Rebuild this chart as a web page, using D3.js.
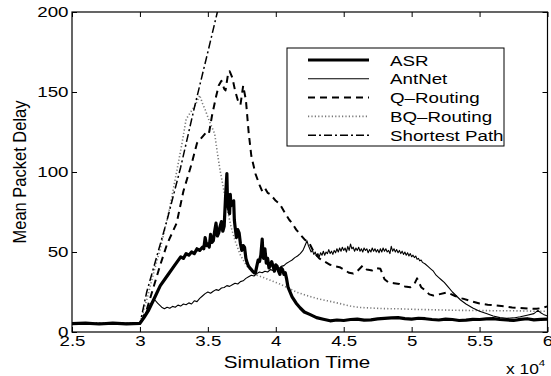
<!DOCTYPE html>
<html>
<head>
<meta charset="utf-8">
<script src="https://cdn.jsdelivr.net/npm/d3@7"></script>
<style>
  body { margin: 0; background: #fff; }
  svg { display: block; }
</style>
</head>
<body>
<script>
// time in units of 10^4, delay values
const xTicks = [2.5, 3, 3.5, 4, 4.5, 5, 5.5, 6]
const xTickLabels = ['2.5', '3', '3.5', '4', '4.5', '5', '5.5', '6']
const yTicks = [0, 50, 100, 150, 200]
const yTickLabels = ['0', '50', '100', '150', '200']

const seriesNames = ['ASR', 'AntNet', 'Q\u2013Routing', 'BQ\u2013Routing', 'Shortest Path']

const asr = [[2.5,5.2],[2.6,5.6],[2.7,5.0],[2.8,5.5],[2.9,5.1],[3.0,5.4],
  [3.03,9],[3.06,13],[3.1,20],[3.15,29],[3.2,35],[3.25,41],[3.3,47],[3.32,46],[3.34,49],[3.36,48],[3.38,50],[3.4,49],
  [3.42,52],[3.44,51],[3.46,53],[3.47,52],[3.48,59],[3.49,54],[3.5,55],[3.51,53],[3.52,61],[3.53,56],[3.54,57],[3.55,63],
  [3.56,68],[3.57,60],[3.58,62],[3.59,66],[3.6,69],[3.61,63],[3.62,66],[3.63,84],[3.64,99],[3.645,80],[3.65,78],[3.66,74],
  [3.665,86],[3.67,79],[3.68,80],[3.69,82],[3.695,70],[3.7,66],[3.71,59],[3.72,64],[3.73,62],[3.74,55],[3.75,51],[3.76,54],
  [3.77,53],[3.78,46],[3.79,43],[3.8,41],[3.81,40],[3.82,39],[3.83,38],[3.84,37],[3.85,37],[3.86,41],[3.87,45],[3.88,44],
  [3.89,48],[3.9,58],[3.905,50],[3.91,46],[3.92,52],[3.93,43],[3.94,46],[3.95,40],[3.96,42],[3.97,44],[3.98,41],[3.99,38],
  [4.0,42],[4.01,41],[4.02,38],[4.03,36],[4.04,40],[4.05,39],[4.06,36],[4.07,37],[4.08,33],[4.09,28],[4.1,26],[4.12,22],
  [4.15,18],[4.18,15],[4.21,12.5],[4.25,11],[4.3,9],[4.35,8],[4.4,7],[4.45,7.5],[4.5,7.2],[4.55,7.8],[4.6,8],[4.65,7.4],
  [4.7,7.6],[4.75,8.2],[4.8,8.5],[4.85,8.8],[4.9,9],[4.95,8.4],[5.0,8],[5.05,8.6],[5.1,8.3],[5.15,7.8],[5.2,7.5],[5.25,8],
  [5.3,7.8],[5.35,7.2],[5.4,7.4],[5.45,7.9],[5.5,7.8],[5.55,8.2],[5.6,8.4],[5.65,7.8],[5.7,7.5],[5.75,7.2],[5.8,7.9],
  [5.85,8.3],[5.9,7.6],[5.95,7.9],[6.0,8]]

const antnet = [[2.5,5.5],[2.6,5.2],[2.7,5.6],[2.8,5.1],[2.9,5.5],[3.0,5.3],[3.03,10],[3.06,15],[3.09,19],[3.11,20],
  [3.13,18],[3.16,15.5],[3.18,14.5],[3.2,15.5],[3.22,14.8],[3.24,16],[3.26,15.5],[3.28,16.8],[3.3,16.2],[3.32,17.5],
  [3.34,17],[3.36,18.2],[3.38,17.5],[3.4,19.5],[3.42,19],[3.44,21],[3.46,22.5],[3.48,24],[3.5,25],[3.52,24.2],[3.54,25.5],
  [3.56,26.5],[3.58,26],[3.6,27.5],[3.62,27.8],[3.64,29],[3.66,28.5],[3.68,29.5],[3.7,30.5],[3.72,30],[3.74,31.5],
  [3.76,32],[3.78,33.5],[3.8,34.5],[3.82,35.5],[3.84,35],[3.86,36.5],[3.88,37.5],[3.9,37],[3.92,38],[3.94,37.5],
  [3.96,39],[3.98,38.5],[4.0,40],[4.02,39.5],[4.04,41],[4.06,41.5],[4.08,43],[4.1,44],[4.12,45],[4.14,46.5],[4.16,47.5],
  [4.18,49],[4.2,51],[4.21,53],[4.22,55],[4.23,57],[4.24,54],[4.25,52],[4.26,50],[4.27,51],[4.28,48.5],[4.29,50],
  [4.3,47.5],[4.31,49],[4.32,47],[4.33,49.5],[4.34,48],[4.35,50.5],[4.36,48],[4.37,50],[4.38,49],[4.39,51.5],[4.4,49],
  [4.41,50.5],[4.42,48.5],[4.43,51],[4.44,49.5],[4.45,52],[4.46,50],[4.47,52.5],[4.48,50.5],[4.49,53],[4.5,51],
  [4.51,52.5],[4.52,50],[4.53,53.5],[4.54,51],[4.55,55],[4.56,52],[4.57,53],[4.58,50.5],[4.59,52.5],[4.6,51],[4.61,53],
  [4.62,50.5],[4.63,52],[4.64,50],[4.65,52.5],[4.66,51],[4.67,52],[4.68,49.5],[4.69,51.5],[4.7,50],[4.71,52.5],[4.72,50.5],
  [4.73,52],[4.74,50],[4.75,51.5],[4.76,49.5],[4.77,52],[4.78,50],[4.79,52.5],[4.8,50.5],[4.81,52],[4.82,50],[4.83,51],
  [4.84,49],[4.85,53.5],[4.86,50.5],[4.87,52],[4.88,50],[4.89,51.5],[4.9,49.5],[4.91,51],[4.92,49],[4.93,50.5],[4.94,48.5],
  [4.95,50],[4.96,48],[4.97,49.5],[4.98,47.5],[4.99,49],[5.0,47],[5.01,48],[5.02,46.5],[5.03,47.5],[5.04,45.5],[5.05,46],
  [5.06,44.5],[5.07,45],[5.08,43.5],[5.1,42.5],[5.12,41],[5.14,39.5],[5.16,38],[5.18,35.5],[5.2,34],[5.22,32.5],
  [5.24,31],[5.27,28],[5.3,25],[5.33,22.5],[5.36,20],[5.4,17.5],[5.45,15],[5.5,13],[5.55,11.5],[5.6,10],[5.65,9],
  [5.7,8.5],[5.75,8.8],[5.8,9.5],[5.85,10.5],[5.9,11.5],[5.93,13.5],[5.95,12],[5.97,11],[6.0,10]]

const qrouting = [[2.5,5],[3.0,5],[3.05,14],[3.1,28],[3.15,42],[3.2,55],[3.27,68],[3.32,88],[3.38,105],[3.42,118],
  [3.45,121],[3.48,124],[3.5,126],[3.51,125],[3.53,135],[3.56,147],[3.58,154],[3.6,157],[3.62,152],[3.63,151],[3.65,162],
  [3.66,163],[3.68,159],[3.7,151],[3.72,145],[3.74,142],[3.76,154],[3.78,145],[3.8,125],[3.82,110],[3.85,99],[3.88,92],
  [3.9,88],[3.92,90],[3.94,87],[3.96,86],[4.0,82],[4.03,80],[4.07,74],[4.1,70],[4.12,68],[4.15,64],[4.18,61],[4.21,58],
  [4.25,55],[4.28,50],[4.32,46],[4.36,44],[4.4,42],[4.44,41],[4.47,40.5],[4.5,39],[4.54,37],[4.57,36.5],[4.6,38],
  [4.64,41.5],[4.67,39],[4.71,38.5],[4.74,40],[4.77,39.5],[4.8,33],[4.83,31],[4.87,30.5],[4.91,30],[4.95,28.5],[4.99,28],
  [5.02,30],[5.04,33.5],[5.07,28],[5.1,26],[5.13,23.5],[5.16,22.8],[5.2,23.5],[5.26,24.7],[5.32,22.5],[5.37,21],
  [5.43,19.5],[5.5,17.8],[5.56,17],[5.62,16.6],[5.68,16],[5.74,15.3],[5.8,15],[5.86,14.7],[5.92,14.5],[5.96,15],[6.0,16]]

const bqrouting = [[2.5,5.8],[3.0,5.8],[3.05,20],[3.1,36.6],[3.15,52],[3.22,78],[3.27,100],[3.31,118],[3.34,133],
  [3.37,137],[3.41,142],[3.44,148],[3.46,143],[3.48,139],[3.51,132],[3.53,128],[3.55,124],[3.57,112],[3.59,101],
  [3.61,92],[3.64,78],[3.67,66],[3.7,57],[3.74,48],[3.78,42],[3.82,38],[3.86,35.5],[3.91,34],[3.97,32],[4.03,30],
  [4.09,27.5],[4.15,25],[4.22,23],[4.3,21],[4.38,19.5],[4.47,17.8],[4.55,16.2],[4.62,15.3],[4.7,15],[4.8,14.6],[4.9,14.5],
  [5.0,14.2],[5.1,14],[5.2,13.8],[5.3,13.6],[5.4,13.5],[5.5,13.4],[5.6,13.3],[5.7,13.3],[5.8,13.2],[5.9,13],[6.0,13]]

const shortest = [[2.5,5],[3.0,5],[3.05,25],[3.1,40],[3.2,70],[3.3,103],[3.4,140],[3.5,175],[3.57,200],[3.6,212]]

const w = 551
const h = 376
const sx = 1.25 // text in the picture is stretched sideways

const svg = d3.select('body')
    .append('svg')
    .attr('width', w)
    .attr('height', h)
    .style('font-family', '"Liberation Sans", Arial, sans-serif')

const x = d3.scaleLinear().domain([2.5, 6]).range([72, 547.5])
const y = d3.scaleLinear().domain([0, 200]).range([332, 12])

// styles per series
const styles = [
    { data: asr, width: 3.2, color: '#000', dash: null },
    { data: antnet, width: 1.1, color: '#000', dash: null },
    { data: qrouting, width: 2, color: '#000', dash: '7,5' },
    { data: bqrouting, width: 1.6, color: '#777', dash: '1.2,2.2' },
    { data: shortest, width: 1.5, color: '#000', dash: '8,3,2,3' }
]

svg.append('clipPath')
    .attr('id', 'plot')
    .append('rect')
    .attr('x', x(2.5))
    .attr('y', y(200))
    .attr('width', x(6) - x(2.5))
    .attr('height', y(0) - y(200))

const line = d3.line()
    .x(d => x(d[0]))
    .y(d => y(d[1]))

// draw order: lighter ones first
const drawOrder = [3, 4, 2, 1, 0]
svg.append('g')
    .attr('clip-path', 'url(#plot)')
    .selectAll('path')
    .data(drawOrder.map(i => styles[i]))
    .enter()
    .append('path')
    .attr('d', d => line(d.data))
    .attr('fill', 'none')
    .attr('stroke', d => d.color)
    .attr('stroke-width', d => d.width)
    .attr('stroke-dasharray', d => d.dash)
    .attr('stroke-linejoin', 'round')

// axes with inward ticks (matlab style)
const xAxis = svg.append('g')
    .attr('transform', `translate(0,${y(0)})`)
    .call(d3.axisBottom(x).tickValues(xTicks).tickSizeInner(-5).tickSizeOuter(0)
        .tickPadding(3).tickFormat((d, i) => xTickLabels[i]))
svg.append('g')
    .attr('transform', `translate(0,${y(200)})`)
    .call(d3.axisTop(x).tickValues(xTicks).tickSizeInner(-5).tickSizeOuter(0).tickFormat(''))
const yAxis = svg.append('g')
    .attr('transform', `translate(${x(2.5)},0)`)
    .call(d3.axisLeft(y).tickValues(yTicks).tickSizeInner(-5).tickSizeOuter(0)
        .tickPadding(3).tickFormat((d, i) => yTickLabels[i]))
svg.append('g')
    .attr('transform', `translate(${x(6)},0)`)
    .call(d3.axisRight(y).tickValues(yTicks).tickSizeInner(-5).tickSizeOuter(0).tickFormat(''))

svg.selectAll('.domain').remove()
svg.selectAll('.tick line').attr('stroke', '#000')

xAxis.selectAll('text')
    .attr('font-size', 15)
    .attr('font-family', '"Liberation Sans", Arial, sans-serif')
    .attr('fill', '#000')
    .attr('transform', `scale(${sx},1)`)

yAxis.selectAll('text')
    .attr('font-size', 15)
    .attr('font-family', '"Liberation Sans", Arial, sans-serif')
    .attr('fill', '#000')
    .attr('x', -3.5 / sx)
    .attr('transform', `scale(${sx},1)`)

// frame
svg.append('rect')
    .attr('x', x(2.5))
    .attr('y', y(200))
    .attr('width', x(6) - x(2.5))
    .attr('height', y(0) - y(200))
    .attr('fill', 'none')
    .attr('stroke', '#000')
    .attr('stroke-width', 1.2)

// axis labels
svg.append('text')
    .attr('transform', `translate(297,368) scale(${sx},1)`)
    .attr('text-anchor', 'middle')
    .attr('font-size', 16.5)
    .text('Simulation Time')

svg.append('text')
    .attr('transform', `translate(25.5,172) scale(1.12,1) rotate(-90)`)
    .attr('text-anchor', 'middle')
    .attr('font-size', 16.5)
    .text('Mean Packet Delay')

const expo = svg.append('text')
    .attr('transform', `translate(506,374) scale(1.2,1)`)
    .attr('font-size', 14.5)
expo.append('tspan').text('x 10')
expo.append('tspan').attr('font-size', 9.5).attr('dy', -8).text('4')

// legend
const legend = svg.append('g')
    .attr('transform', 'translate(287,48)')

legend.append('rect')
    .attr('width', 217)
    .attr('height', 98)
    .attr('fill', '#fff')
    .attr('stroke', '#000')
    .attr('stroke-width', 1)

const rows = legend.selectAll('.row')
    .data(styles)
    .enter()
    .append('g')
    .attr('class', 'row')
    .attr('transform', (d, i) => `translate(0,${12 + i * 18.8})`)

rows.append('line')
    .attr('x1', 21)
    .attr('x2', 82)
    .attr('stroke', d => d.color)
    .attr('stroke-width', d => d.width)
    .attr('stroke-dasharray', d => d.dash)

rows.append('text')
    .attr('transform', `translate(103,5.5) scale(${sx},1)`)
    .attr('font-size', 15)
    .text((d, i) => seriesNames[i])
</script>
</body>
</html>
